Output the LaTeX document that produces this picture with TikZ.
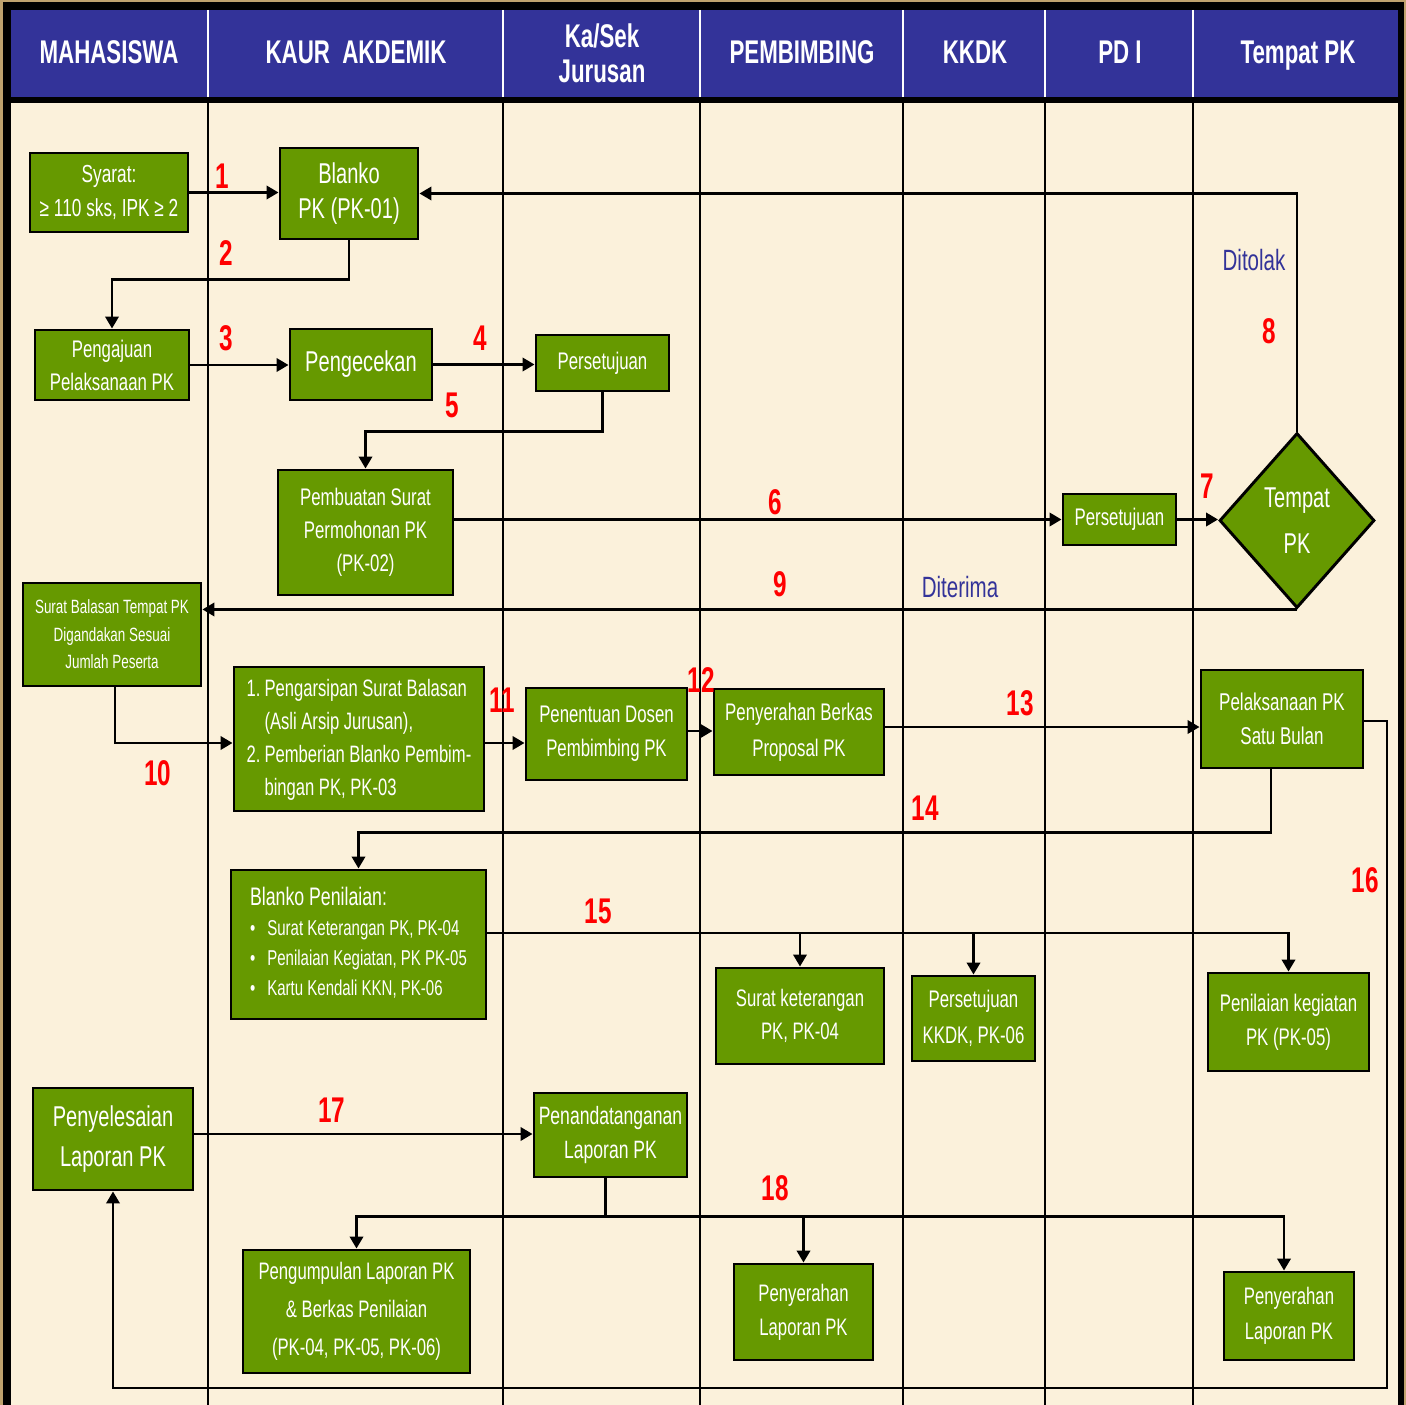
\documentclass[tikz,border=0pt]{standalone}
\usepackage{fontspec}
\setmainfont{Liberation Sans}
\newfontfamily\nar[FakeStretch=0.70]{Liberation Sans}
\newfontfamily\narb[FakeStretch=0.68]{Liberation Sans Bold}
\usetikzlibrary{shapes.geometric,arrows.meta,calc}
\definecolor{hdrblue}{HTML}{333399}
\definecolor{boxgreen}{HTML}{669900}
\definecolor{bodybeige}{HTML}{FBF1DB}
\definecolor{frbrown}{HTML}{BFA26E}
\definecolor{numred}{HTML}{FF0000}
\newcommand{\fsz}[2]{\fontsize{#1pt}{#2pt}\selectfont}
\tikzset{
 box/.style={rectangle, draw=black, line width=2.2pt, fill=boxgreen, text=white, inner sep=0pt, align=center},
 conn/.style={line width=2pt, draw=black},
 arr/.style={conn, -{Triangle[length=9pt,width=10pt]}},
 num/.style={text=numred, inner sep=0pt, font=\narb\fsz{26.8}{30}},
 hdr/.style={text=white, inner sep=0pt, align=center, font=\narb\fsz{24.6}{26}},
 lane/.style={line width=1.5pt, draw=black},
 hlane/.style={line width=1.5pt, draw=white},
 bluelbl/.style={text=hdrblue, inner sep=0pt, font=\nar\fsz{22}{24}},
}
\begin{document}
\begin{tikzpicture}[x=0.75pt,y=-0.75pt]
\useasboundingbox (0,0) rectangle (1406,1405);
% background and frame
\fill[frbrown] (0,0) rectangle (1406,1405);
\fill[black] (3,2) rectangle (1404,1405);
\fill[hdrblue] (11,10) rectangle (1398,97);
\fill[bodybeige] (11,103) rectangle (1398,1405);
% lanes
\foreach \lx in {208,503,700,903,1045,1193} {
  \draw[hlane] (\lx,10) -- (\lx,97);
  \draw[lane] (\lx,103) -- (\lx,1405);
}
% headers
\node[hdr, anchor=base] (h1) at (109,64) {MAHASISWA};
\node[hdr, anchor=base] (h2) at (356,64) {KAUR\ \ AKDEMIK};
\node[hdr] (h3) at (602,53) {Ka/Sek\\Jurusan};
\node[hdr, anchor=base] (h4) at (802,64) {PEMBIMBING};
\node[hdr, anchor=base] (h5) at (975,64) {KKDK};
\node[hdr, anchor=base] (h6) at (1120,64) {PD I};
\node[hdr, anchor=base] (h7) at (1298,64) {Tempat PK};
% nodes
\node[box, minimum width=118.5pt, minimum height=59.25pt, font=\nar\fsz{18.5}{25.5}] (syarat) at (109,192.5) {Syarat:\\≥ 110 sks, IPK ≥ 2};
\node[box, minimum width=103.5pt, minimum height=68.25pt, font=\nar\fsz{21.5}{26}] (blanko) at (349,193.5) {Blanko\\PK (PK-01)};
\node[box, minimum width=115.5pt, minimum height=52.5pt, font=\nar\fsz{18}{24.75}] (pengajuan) at (112,365) {Pengajuan\\Pelaksanaan PK};
\node[box, minimum width=106.5pt, minimum height=53.25pt, font=\nar\fsz{21.5}{26}] (pengecekan) at (361,364.5) {Pengecekan};
\node[box, minimum width=99.75pt, minimum height=42pt, font=\nar\fsz{18}{24.75}] (setuju1) at (602.5,363) {Persetujuan};
\node[box, minimum width=131.25pt, minimum height=93.75pt, font=\nar\fsz{18}{24.75}] (pembuatan) at (365.5,532.5) {Pembuatan Surat\\Permohonan PK\\(PK-02)};
\node[box, minimum width=84.75pt, minimum height=38.25pt, font=\nar\fsz{18}{24.75}] (setuju2) at (1119.5,519.5) {Persetujuan};
\node[box, diamond, minimum width=116.25pt, minimum height=131.25pt, font=\nar\fsz{21.5}{34.5}] (tempat) at (1297,520.5) {Tempat\\PK};
\node[box, minimum width=133.5pt, minimum height=77.25pt, font=\nar\fsz{14.4}{20.6}] (balasan) at (112,634.5) {Surat Balasan Tempat PK\\Digandakan Sesuai\\Jumlah Peserta};
\node[box, minimum width=187.5pt, minimum height=108pt, font=\nar\fsz{17.8}{24.75}] (arsip) at (359,739) {\begin{tabular}{@{}l@{\hspace{3pt}}l@{}}1. & Pengarsipan Surat Balasan\\ & (Asli Arsip Jurusan),\\2. & Pemberian Blanko Pembim-\\ & bingan PK, PK-03\end{tabular}};
\node[box, minimum width=120.75pt, minimum height=69pt, font=\nar\fsz{18}{25.5}] (dosen) at (606.5,734) {Penentuan Dosen\\Pembimbing PK};
\node[box, minimum width=127.5pt, minimum height=64.5pt, font=\nar\fsz{18}{27}] (berkas) at (799,732) {Penyerahan Berkas\\Proposal PK};
\node[box, minimum width=121.5pt, minimum height=73.5pt, font=\nar\fsz{18.2}{25.5}] (pelaksanaan) at (1282,719) {Pelaksanaan PK\\Satu Bulan};
\node[box, minimum width=191.25pt, minimum height=111.75pt, font=\nar\fsz{16.1}{22.5}] (penilaian) at (358.5,944.5) {\begin{tabular}{@{}l@{\hspace{9pt}}l@{}}\multicolumn{2}{@{}l@{}}{\fsz{19}{22.5}Blanko Penilaian:}\\\textbullet & Surat Keterangan PK, PK-04\\\textbullet & Penilaian Kegiatan, PK PK-05\\\textbullet & Kartu Kendali KKN, PK-06\end{tabular}};
\node[box, minimum width=126pt, minimum height=72pt, font=\nar\fsz{17.9}{24.75}] (sket) at (800,1016) {Surat keterangan\\PK, PK-04};
\node[box, minimum width=92.25pt, minimum height=63.75pt, font=\nar\fsz{18}{27}] (kkdk) at (973.5,1018.5) {Persetujuan\\KKDK, PK-06};
\node[box, minimum width=120.75pt, minimum height=73.5pt, font=\nar\fsz{18}{25.5}] (pk05) at (1288.5,1022) {Penilaian kegiatan\\PK (PK-05)};
\node[box, minimum width=120pt, minimum height=76.5pt, font=\nar\fsz{21.5}{30}] (selesai) at (113,1139) {Penyelesaian\\Laporan PK};
\node[box, minimum width=114.75pt, minimum height=63pt, font=\nar\fsz{18.8}{25.5}] (tanda) at (610.5,1135) {Penandatanganan\\Laporan PK};
\node[box, minimum width=170.25pt, minimum height=92.25pt, font=\nar\fsz{17.9}{28.5}] (kumpul) at (356.5,1311.5) {Pengumpulan Laporan PK\\\& Berkas Penilaian\\(PK-04, PK-05, PK-06)};
\node[box, minimum width=104.25pt, minimum height=72pt, font=\nar\fsz{17.9}{25.5}] (serah1) at (803.5,1312) {Penyerahan\\Laporan PK};
\node[box, minimum width=97.5pt, minimum height=66pt, font=\nar\fsz{17.9}{26}] (serah2) at (1289,1316) {Penyerahan\\Laporan PK};
% connectors
\draw[arr] (syarat.east) -- (syarat.east -| blanko.west);
\draw[arr] (blanko.south) -- ++(0,39) -| (pengajuan.north);
\draw[arr] (pengajuan.east) -- (pengajuan.east -| pengecekan.west);
\draw[arr] (pengecekan.east) -- (pengecekan.east -| setuju1.west);
\draw[arr] (setuju1.south) -- ++(0,39) -| (pembuatan.north);
\draw[arr] (pembuatan.east |- setuju2.west) -- (setuju2.west);
\draw[arr] (setuju2.east) -- (setuju2.east -| tempat.west);
\draw[arr] (tempat.north) |- (blanko.east);
\draw[arr] (tempat.south) -- (tempat.south -| balasan.east);
\draw[arr] ($(balasan.south)+(3,0)$) |- ($(arsip.west)+(0,4)$);
\draw[arr] ($(arsip.east)+(0,4)$) coordinate (s11) -- (s11 -| dosen.west);
\draw[arr] ($(dosen.east)+(0,-3)$) coordinate (s12) -- (s12 -| berkas.west);
\draw[arr] ($(berkas.east)+(0,-5)$) coordinate (s13) -- (s13 -| pelaksanaan.west);
\draw[arr] ($(pelaksanaan.south)+(-11,0)$) -- ++(0,63) -| (penilaian.north);
\draw[arr] ($(penilaian.east)+(0,-11.5)$) coordinate (b15) -| (pk05.north);
\draw[arr] (b15 -| sket.north) -- (sket.north);
\draw[arr] (b15 -| kkdk.north) -- (kkdk.north);
\coordinate (c16) at (1387,1388);
\draw[arr] ($(pelaksanaan.east)+(0,2)$) -| (c16) -| (selesai.south);
\draw[arr] ($(selesai.east)+(0,-5)$) coordinate (s17) -- (s17 -| tanda.west);
\draw[conn] ($(tanda.south)+(-5,0)$) -- ++(0,38) coordinate (b18);
\draw[arr] (b18) -| (kumpul.north);
\draw[arr] (b18) -| ($(serah2.north)+(-5,0)$);
\draw[arr] (b18 -| serah1.north) -- (serah1.north);
% labels
\node[num] (n1) at (222,176) {1};
\node[num] (n2) at (226,253) {2};
\node[num] (n3) at (226,338) {3};
\node[num] (n4) at (480,338) {4};
\node[num] (n5) at (452,405) {5};
\node[num] (n6) at (775,502) {6};
\node[num] (n7) at (1207,486) {7};
\node[num] (n8) at (1269,331) {8};
\node[num] (n9) at (780,584) {9};
\node[num] (n10) at (158,773) {10};
\node[num] (n11) at (502,700) {11};
\node[num] (n12) at (701,680) {12};
\node[num] (n13) at (1020,703) {13};
\node[num] (n14) at (925,808) {14};
\node[num] (n15) at (598,911) {15};
\node[num] (n16) at (1365,880) {16};
\node[num] (n17) at (332,1110) {17};
\node[num] (n18) at (775,1188) {18};
\node[bluelbl] (ditolak) at (1254,260) {Ditolak};
\node[bluelbl] (diterima) at (960,587) {Diterima};
\end{tikzpicture}
\end{document}
